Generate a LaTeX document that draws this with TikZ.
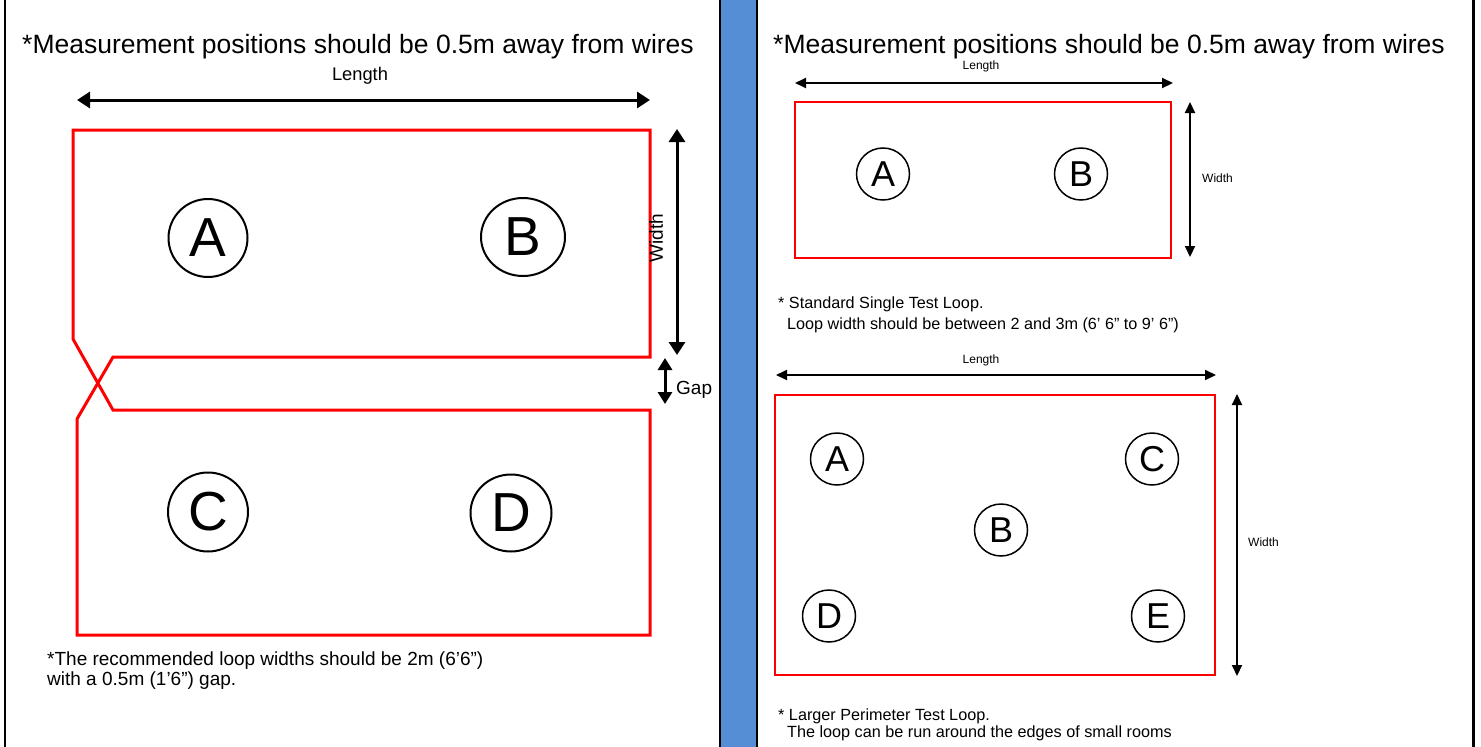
\documentclass[tikz,border=0pt]{standalone}
\usepackage{fontspec}
\setmainfont{Liberation Sans}
\usetikzlibrary{arrows.meta,shapes.geometric}
\definecolor{barblue}{HTML}{558ED5}
\begin{document}
\begin{tikzpicture}[x=1pt,y=-1pt,
  bigarrow/.style={line width=3pt,{Triangle[length=13pt,width=16pt]}-{Triangle[length=13pt,width=16pt]}},
  smallarrow/.style={line width=2pt,{Triangle[length=11pt,width=10pt]}-{Triangle[length=11pt,width=10pt]}},
  loopline/.style={draw=red,line width=3pt,line join=miter},
  thinloop/.style={draw=red,line width=2pt},
  bigpos/.style={ellipse,draw,line width=2pt,inner sep=0pt,font=\fontsize{55}{55}\selectfont},
  smallpos/.style={ellipse,draw,line width=1.5pt,inner sep=0pt,minimum width=53pt,minimum height=52pt,font=\fontsize{36}{36}\selectfont},
  title/.style={anchor=base west,inner sep=0pt,font=\fontsize{26.5}{30}\selectfont},
  note/.style={anchor=base west,inner sep=0pt,font=\fontsize{19}{22}\selectfont},
  smallnote/.style={anchor=base west,inner sep=0pt,font=\fontsize{16.2}{18}\selectfont},
  tiny/.style={inner sep=0pt,font=\fontsize{12}{14}\selectfont}
]
\useasboundingbox (0,0) rectangle (1481,747);
% frame and divider
\draw[line width=2pt] (5,0) -- (5,747);
\draw[line width=3pt] (1473.5,0) -- (1473.5,747);
\fill[barblue] (720,0) rectangle (757,747);
\draw[line width=2pt] (720,0) -- (720,747);
\draw[line width=2pt] (757,0) -- (757,747);

% ---------------- left panel ----------------
\node[title] (tl) at (22,53) {*Measurement positions should be 0.5m away from wires};
\coordinate (lenL1) at (77,100);
\coordinate (lenL2) at (650,100);
\draw[bigarrow] (lenL1) -- (lenL2);
\node[anchor=base,inner sep=0pt,font=\fontsize{18.3}{20}\selectfont] (lenLlab) at (360,80) {Length};

\draw[loopline] (73,130) -- (650,130) -- (650,357) -- (113,357) -- (77,419) -- (77,635)
  -- (650,635) -- (650,410) -- (113,410) -- (73,339) -- cycle;

\node[bigpos,minimum width=79pt,minimum height=78pt] (LA) at (208,238) {A};
\node[bigpos,minimum width=84pt,minimum height=78pt] (LB) at (523,237) {B};
\node[bigpos,minimum width=80pt,minimum height=79pt] (LC) at (208,512) {C};
\node[bigpos,minimum width=81pt,minimum height=77pt] (LD) at (511,513) {D};

\coordinate (widL1) at (677,129);
\coordinate (widL2) at (677,355);
\draw[bigarrow] (widL1) -- (widL2);
\node[rotate=90,inner sep=0pt,font=\fontsize{19}{20}\selectfont] (widLlab) at (656,238) {Width};

\coordinate (gap1) at (665,358);
\coordinate (gap2) at (665,404);
\draw[line width=3pt,{Triangle[length=12pt,width=14pt]}-{Triangle[length=12pt,width=14pt]}] (gap1) -- (gap2);
\node[note] (gaplab) at (676,394) {Gap};

\node[note] (noteL1) at (47,665) {*The recommended loop widths should be 2m (6’6”)};
\node[note] (noteL2) at (47,685) {with a 0.5m (1’6”) gap.};

% ---------------- right panel ----------------
\node[title] (tr) at (773,53) {*Measurement positions should be 0.5m away from wires};

\coordinate (lenR1a) at (795,83);
\coordinate (lenR1b) at (1173,83);
\draw[smallarrow] (lenR1a) -- (lenR1b);
\node[tiny,anchor=base] (lenR1lab) at (981,69) {Length};
\draw[thinloop] (795,102) rectangle (1171,258);
\coordinate (widR1a) at (1190,102);
\coordinate (widR1b) at (1190,257);
\draw[smallarrow] (widR1a) -- (widR1b);
\node[tiny,anchor=west] (widR1lab) at (1202,178) {Width};
\node[smallpos] (RA1) at (883,174) {A};
\node[smallpos] (RB1) at (1081,174) {B};

\node[smallnote] (noteR1) at (778,308) {* Standard Single Test Loop.};
\node[smallnote] (noteR2) at (787,329) {Loop width should be between 2 and 3m (6’ 6” to 9’ 6”)};

\coordinate (lenR2a) at (776,375);
\coordinate (lenR2b) at (1216,375);
\draw[smallarrow] (lenR2a) -- (lenR2b);
\node[tiny,anchor=base] (lenR2lab) at (981,363) {Length};
\draw[thinloop] (775,395) rectangle (1215,675);
\coordinate (widR2a) at (1237,394);
\coordinate (widR2b) at (1237,676);
\draw[smallarrow] (widR2a) -- (widR2b);
\node[tiny,anchor=west] (widR2lab) at (1248,542) {Width};

\node[smallpos] (RA2) at (837,459) {A};
\node[smallpos] (RC2) at (1152,459) {C};
\node[smallpos] (RB2) at (1001,530) {B};
\node[smallpos] (RD2) at (829,616) {D};
\node[smallpos] (RE2) at (1158,616) {E};

\node[smallnote] (noteR3) at (778,720) {* Larger Perimeter Test Loop.};
\node[smallnote] (noteR4) at (787,737) {The loop can be run around the edges of small rooms};
\end{tikzpicture}
\end{document}
